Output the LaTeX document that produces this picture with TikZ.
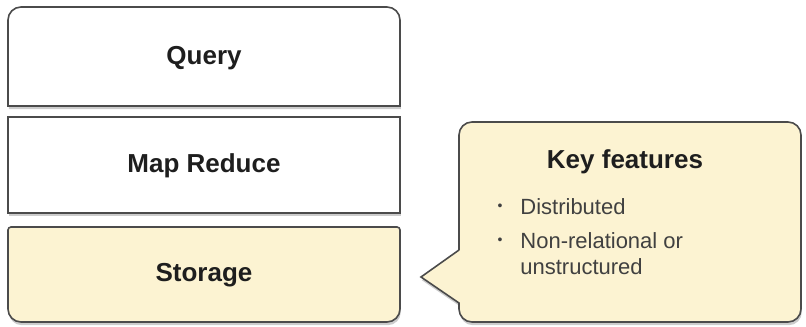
\documentclass[tikz,border=0pt]{standalone}
\usepackage{fontspec}
\setmainfont{Liberation Sans}
\usetikzlibrary{shadows, positioning}
\definecolor{myedge}{RGB}{75,75,75}
\definecolor{mycream}{RGB}{252,243,210}
\definecolor{mytext}{RGB}{30,30,30}
\tikzset{
  layer/.style={draw=myedge, line width=0.8pt,
    drop shadow={shadow xshift=0.4pt, shadow yshift=-1.6pt, opacity=0.4}},
  layertext/.style={font=\fontsize{13}{15}\selectfont\bfseries, text=mytext},
  itemtext/.style={font=\fontsize{11}{13}\selectfont, text=mytext!85, anchor=west, inner sep=0pt},
  dot/.style={font=\fontsize{7}{8}\selectfont, text=mytext!85, inner sep=0pt}
}

\begin{document}
\begin{tikzpicture}[x=0.5pt, y=-0.5pt]
    \useasboundingbox (0,0) rectangle (806,326);
    % Layers
    \draw[layer, fill=white] (8,106) -- (8,20) arc[start angle=180, end angle=90, radius=6.5pt]
      -- (387,7) arc[start angle=90, end angle=0, radius=6.5pt] -- (400,106) -- cycle;
    \draw[layer, fill=white] (8,117) rectangle (400,213);
    \draw[layer, fill=mycream] (8,230) arc[start angle=180, end angle=90, radius=1.5pt]
      -- (397,227) arc[start angle=90, end angle=0, radius=1.5pt]
      -- (400,309) arc[start angle=0, end angle=-90, radius=6.5pt]
      -- (21,322) arc[start angle=-90, end angle=-180, radius=6.5pt] -- cycle;
    \node[layertext] (query) at (204,58) {Query};
    \node[layertext] (mapred) at (204,166) {Map Reduce};
    \node[layertext] (storage) at (204,275) {Storage};

    % Callout
    \draw[layer, fill=mycream, rounded corners=6.5pt] (459,250) -- (459,122) -- (801,122) -- (801,322) -- (459,322) [sharp corners] -- (459,303) -- (421,277) -- (459,250);
    \node[layertext] (keyfeat) at (625,162) {Key features};
    \node[itemtext] (item1) at (520,207) {Distributed};
    \node[itemtext] (item2) at (520,241) {Non-relational or};
    \node[itemtext] (item3) at (520,267) {unstructured};
    \node[dot, left=10pt of item1.west, anchor=center] (dot1) {\textbullet};
    \node[dot, left=10pt of item2.west, anchor=center] (dot2) {\textbullet};
\end{tikzpicture}
\end{document}
